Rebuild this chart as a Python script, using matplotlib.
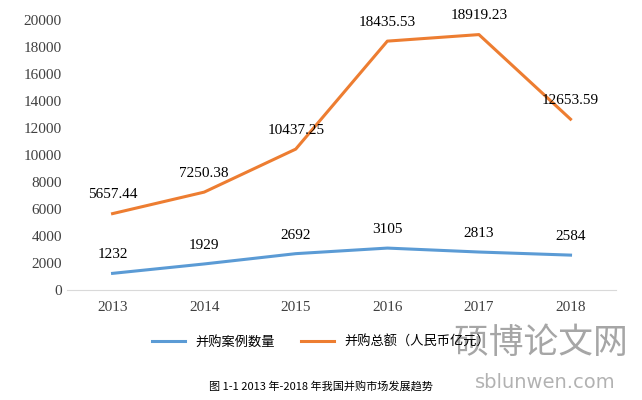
import matplotlib.pyplot as plt

years = ["2013", "2014", "2015", "2016", "2017", "2018"]
cases = [1232, 1929, 2692, 3105, 2813, 2584]
amount = [5657.44, 7250.38, 10437.25, 18435.53, 18919.23, 12653.59]
amount_labels = ["5657.44", "7250.38", "10437.25", "18435.53", "18919.23", "12653.59"]

serif = "Liberation Serif"
cjk = ["Noto Sans CJK SC", "Noto Sans CJK JP", "Noto Sans CJK TC", "Noto Sans CJK KR", "DejaVu Sans"]

fig = plt.figure(figsize=(6.42, 4.0), dpi=100)
ax = fig.add_axes([0.104, 0.275, 0.856, 0.675])
x = range(len(years))
l1, = ax.plot(x, cases, color="#5B9BD5", lw=2.2, label="并购案例数量")
l2, = ax.plot(x, amount, color="#ED7D31", lw=2.2, label="并购总额（人民币亿元）")
for i in x:
    ax.text(i, cases[i] + 900, str(cases[i]), ha="center", va="bottom", fontsize=11, family=serif)
    ax.text(i, amount[i] + 900, amount_labels[i], ha="center", va="bottom", fontsize=11, family=serif)

ax.set_xlim(-0.5, 5.5)
ax.set_ylim(0, 20000)
ax.set_yticks(range(0, 20001, 2000))
ax.set_xticks(list(x))
ax.set_xticklabels(years)
for lab in ax.get_xticklabels() + ax.get_yticklabels():
    lab.set_family(serif)
    lab.set_fontsize(11)
ax.tick_params(length=0, colors="#404040")
ax.tick_params(axis="x", pad=8)
for s in ["top", "right", "left"]:
    ax.spines[s].set_visible(False)
ax.spines["bottom"].set_color("#D9D9D9")

fig.legend(handles=[l1, l2], loc="center", bbox_to_anchor=(0.5, 0.145), ncol=2,
           frameon=False, prop={"family": cjk, "size": 9.5}, handlelength=2.5, columnspacing=2)
fig.text(0.5, 0.032, "图 1-1 2013 年-2018 年我国并购市场发展趋势", ha="center", va="center",
         family=cjk, fontsize=8)
fig.text(0.842, 0.14, "硕博论文网", ha="center", va="center", family=cjk, fontsize=25,
         color="#808080", alpha=0.7)
fig.text(0.85, 0.045, "sblunwen.com", ha="center", va="center", family="DejaVu Sans",
         fontsize=14, color="#808080", alpha=0.6)
fig.savefig("out.png", dpi=100)
